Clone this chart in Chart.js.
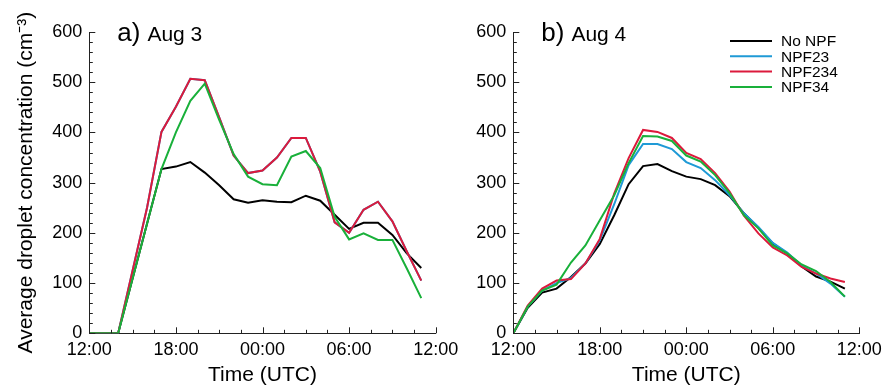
<!DOCTYPE html>
<html>
<head>
<meta charset="utf-8">
<script src="https://cdn.jsdelivr.net/npm/chart.js@4.4.1/dist/chart.umd.min.js"></script>
<style>
  html, body { margin: 0; padding: 0; background: #fff; }
  #wrap { position: relative; width: 891px; height: 389px; }
  #wrap canvas { position: absolute; left: 0; top: 0; }
</style>
</head>
<body>
<div id="wrap">
  <canvas id="chartA" width="891" height="389"></canvas>
  <canvas id="chartB" width="891" height="389"></canvas>
</div>
<script>
// Hours after 12:00 UTC, one value per hour
const hours = Array.from({ length: 24 }, (_, i) => i);
const timeLabels = ['12:00', '18:00', '00:00', '06:00', '12:00'];
const seriesNames = ['No NPF', 'NPF23', 'NPF234', 'NPF34'];

// a) Aug 3
const noNpfA  = [0, 0, 0, 109, 218, 327, 332, 341, 320, 295, 267, 260, 265, 262, 261, 274, 264, 236, 208, 220, 220, 196, 159, 130];
const npf23A  = [0, 0, 0, 125, 250, 401, 451, 507, 504, 430, 354, 319, 324, 350, 389, 389, 322, 221, 200, 246, 262, 223, 163, 105];
const npf234A = [0, 0, 0, 125, 250, 401, 451, 507, 504, 430, 354, 319, 324, 350, 389, 389, 322, 221, 200, 246, 262, 223, 163, 105];
const npf34A  = [0, 0, 0, 109, 218, 327, 400, 463, 497, 425, 357, 312, 297, 295, 352, 363, 329, 232, 187, 199, 186, 186, 129, 70];

// b) Aug 4
const noNpfB  = [0, 51, 81, 89, 112, 139, 178, 235, 297, 333, 337, 323, 312, 307, 295, 273, 239, 210, 179, 159, 133, 113, 103, 89];
const npf23B  = [0, 53, 85, 100, 110, 139, 185, 257, 335, 377, 377, 367, 341, 329, 305, 275, 239, 212, 180, 161, 135, 119, 99, 73];
const npf234B = [0, 55, 89, 105, 108, 139, 188, 278, 349, 405, 401, 389, 359, 347, 319, 282, 234, 199, 171, 155, 132, 119, 109, 102];
const npf34B  = [0, 53, 85, 97, 141, 175, 225, 275, 339, 393, 392, 383, 354, 342, 315, 279, 235, 209, 175, 159, 137, 124, 102, 73];

const colors = ['#000000', '#1f9ad6', '#dc1a3c', '#19b03a'];
const FONT = "'Liberation Sans', Arial, Helvetica, sans-serif";

function makeDatasets(series) {
  return series.map((values, i) => ({
    label: seriesNames[i],
    data: hours.map((h, k) => ({ x: h, y: values[k] })),
    borderColor: colors[i],
    borderWidth: 2,
    pointRadius: 0,
    tension: 0,
    fill: false,
    order: series.length - i // later series drawn on top
  }));
}

// Inward major/minor tick marks, like the original plot
const tickMarks = {
  id: 'tickMarks',
  afterDraw(chart) {
    const { ctx, scales: { x, y } } = chart;
    ctx.save();
    ctx.strokeStyle = '#222';
    ctx.lineWidth = 1;
    ctx.beginPath();
    for (let v = 0; v <= 600; v += 20) {
      const py = Math.round(y.getPixelForValue(v)) + 0.5;
      const len = v % 100 === 0 ? 6 : 3.5;
      ctx.moveTo(x.left, py);
      ctx.lineTo(x.left + len, py);
    }
    for (let h = 0; h <= 24; h += 1.5) {
      const px = Math.round(x.getPixelForValue(h)) + 0.5;
      const len = h % 6 === 0 ? 6 : 3.5;
      ctx.moveTo(px, y.bottom);
      ctx.lineTo(px, y.bottom - len);
    }
    ctx.stroke();
    ctx.restore();
  }
};

// Panel tag "a) Aug 3"
const panelLabel = {
  id: 'panelLabel',
  afterDraw(chart, args, opts) {
    const { ctx, chartArea } = chart;
    ctx.save();
    ctx.fillStyle = '#000';
    ctx.textBaseline = 'alphabetic';
    ctx.font = '26px ' + FONT;
    const x0 = chartArea.left + opts.dx;
    ctx.fillText(opts.tag, x0, opts.y);
    const w = ctx.measureText(opts.tag).width;
    ctx.font = '21px ' + FONT;
    ctx.fillText(opts.text, x0 + w + 7, opts.y);
    ctx.restore();
  }
};

// Line legend drawn from the datasets
const lineLegend = {
  id: 'lineLegend',
  afterDraw(chart, args, opts) {
    if (!opts.show) return;
    const { ctx } = chart;
    ctx.save();
    ctx.font = '15.5px ' + FONT;
    ctx.textBaseline = 'middle';
    chart.data.datasets.forEach((ds, i) => {
      const yy = opts.y + i * opts.step;
      ctx.strokeStyle = ds.borderColor;
      ctx.lineWidth = 2;
      ctx.beginPath();
      ctx.moveTo(opts.x, yy);
      ctx.lineTo(opts.x + opts.len, yy);
      ctx.stroke();
      ctx.fillStyle = '#000';
      ctx.fillText(ds.label, opts.x + opts.len + 9, yy + 1);
    });
    ctx.restore();
  }
};

function makeChart(id, series, cfg) {
  return new Chart(document.getElementById(id), {
    type: 'line',
    data: { datasets: makeDatasets(series) },
    plugins: [tickMarks, panelLabel, lineLegend],
    options: {
      responsive: false,
      animation: false,
      events: [],
      layout: { padding: { left: cfg.padLeft, right: cfg.padRight, top: 32, bottom: 0 } },
      plugins: {
        legend: { display: false },
        tooltip: { enabled: false },
        panelLabel: { tag: cfg.tag, text: cfg.text, dx: 28, y: 41 },
        lineLegend: { show: cfg.legend, x: 730, y: 41, step: 15.3, len: 42 }
      },
      scales: {
        x: {
          type: 'linear',
          min: 0,
          max: 24,
          afterFit: s => { s.height = 55.7; },
          grid: { display: false, drawTicks: false },
          border: { display: true, color: '#222', width: 1 },
          ticks: {
            stepSize: 6,
            autoSkip: false,
            maxRotation: 0,
            padding: 6,
            color: '#000',
            font: { family: FONT, size: 18 },
            callback: v => timeLabels[v / 6]
          },
          title: {
            display: true,
            text: 'Time (UTC)',
            color: '#000',
            font: { family: FONT, size: 21 },
            padding: { top: 0, bottom: 1 }
          }
        },
        y: {
          min: 0,
          max: 600,
          afterFit: s => { s.width = cfg.yWidth; },
          grid: { display: false, drawTicks: false },
          border: { display: true, color: '#222', width: 1 },
          ticks: {
            stepSize: 100,
            padding: 7,
            color: '#000',
            font: { family: FONT, size: 18 }
          },
          title: {
            display: cfg.yTitle,
            text: 'Average droplet concentration (cm⁻³)',
            color: '#000',
            font: { family: FONT, size: 21 },
            padding: { top: 14, bottom: 0 }
          }
        }
      }
    }
  });
}

makeChart('chartA', [noNpfA, npf23A, npf234A, npf34A], {
  padLeft: 0, padRight: 891 - 435.7, yWidth: 89.3, yTitle: true, legend: false, tag: 'a)', text: 'Aug 3'
});
makeChart('chartB', [noNpfB, npf23B, npf234B, npf34B], {
  padLeft: 445, padRight: 891 - 859.3, yWidth: 68.3, yTitle: false, legend: true, tag: 'b)', text: 'Aug 4'
});
</script>
</body>
</html>
